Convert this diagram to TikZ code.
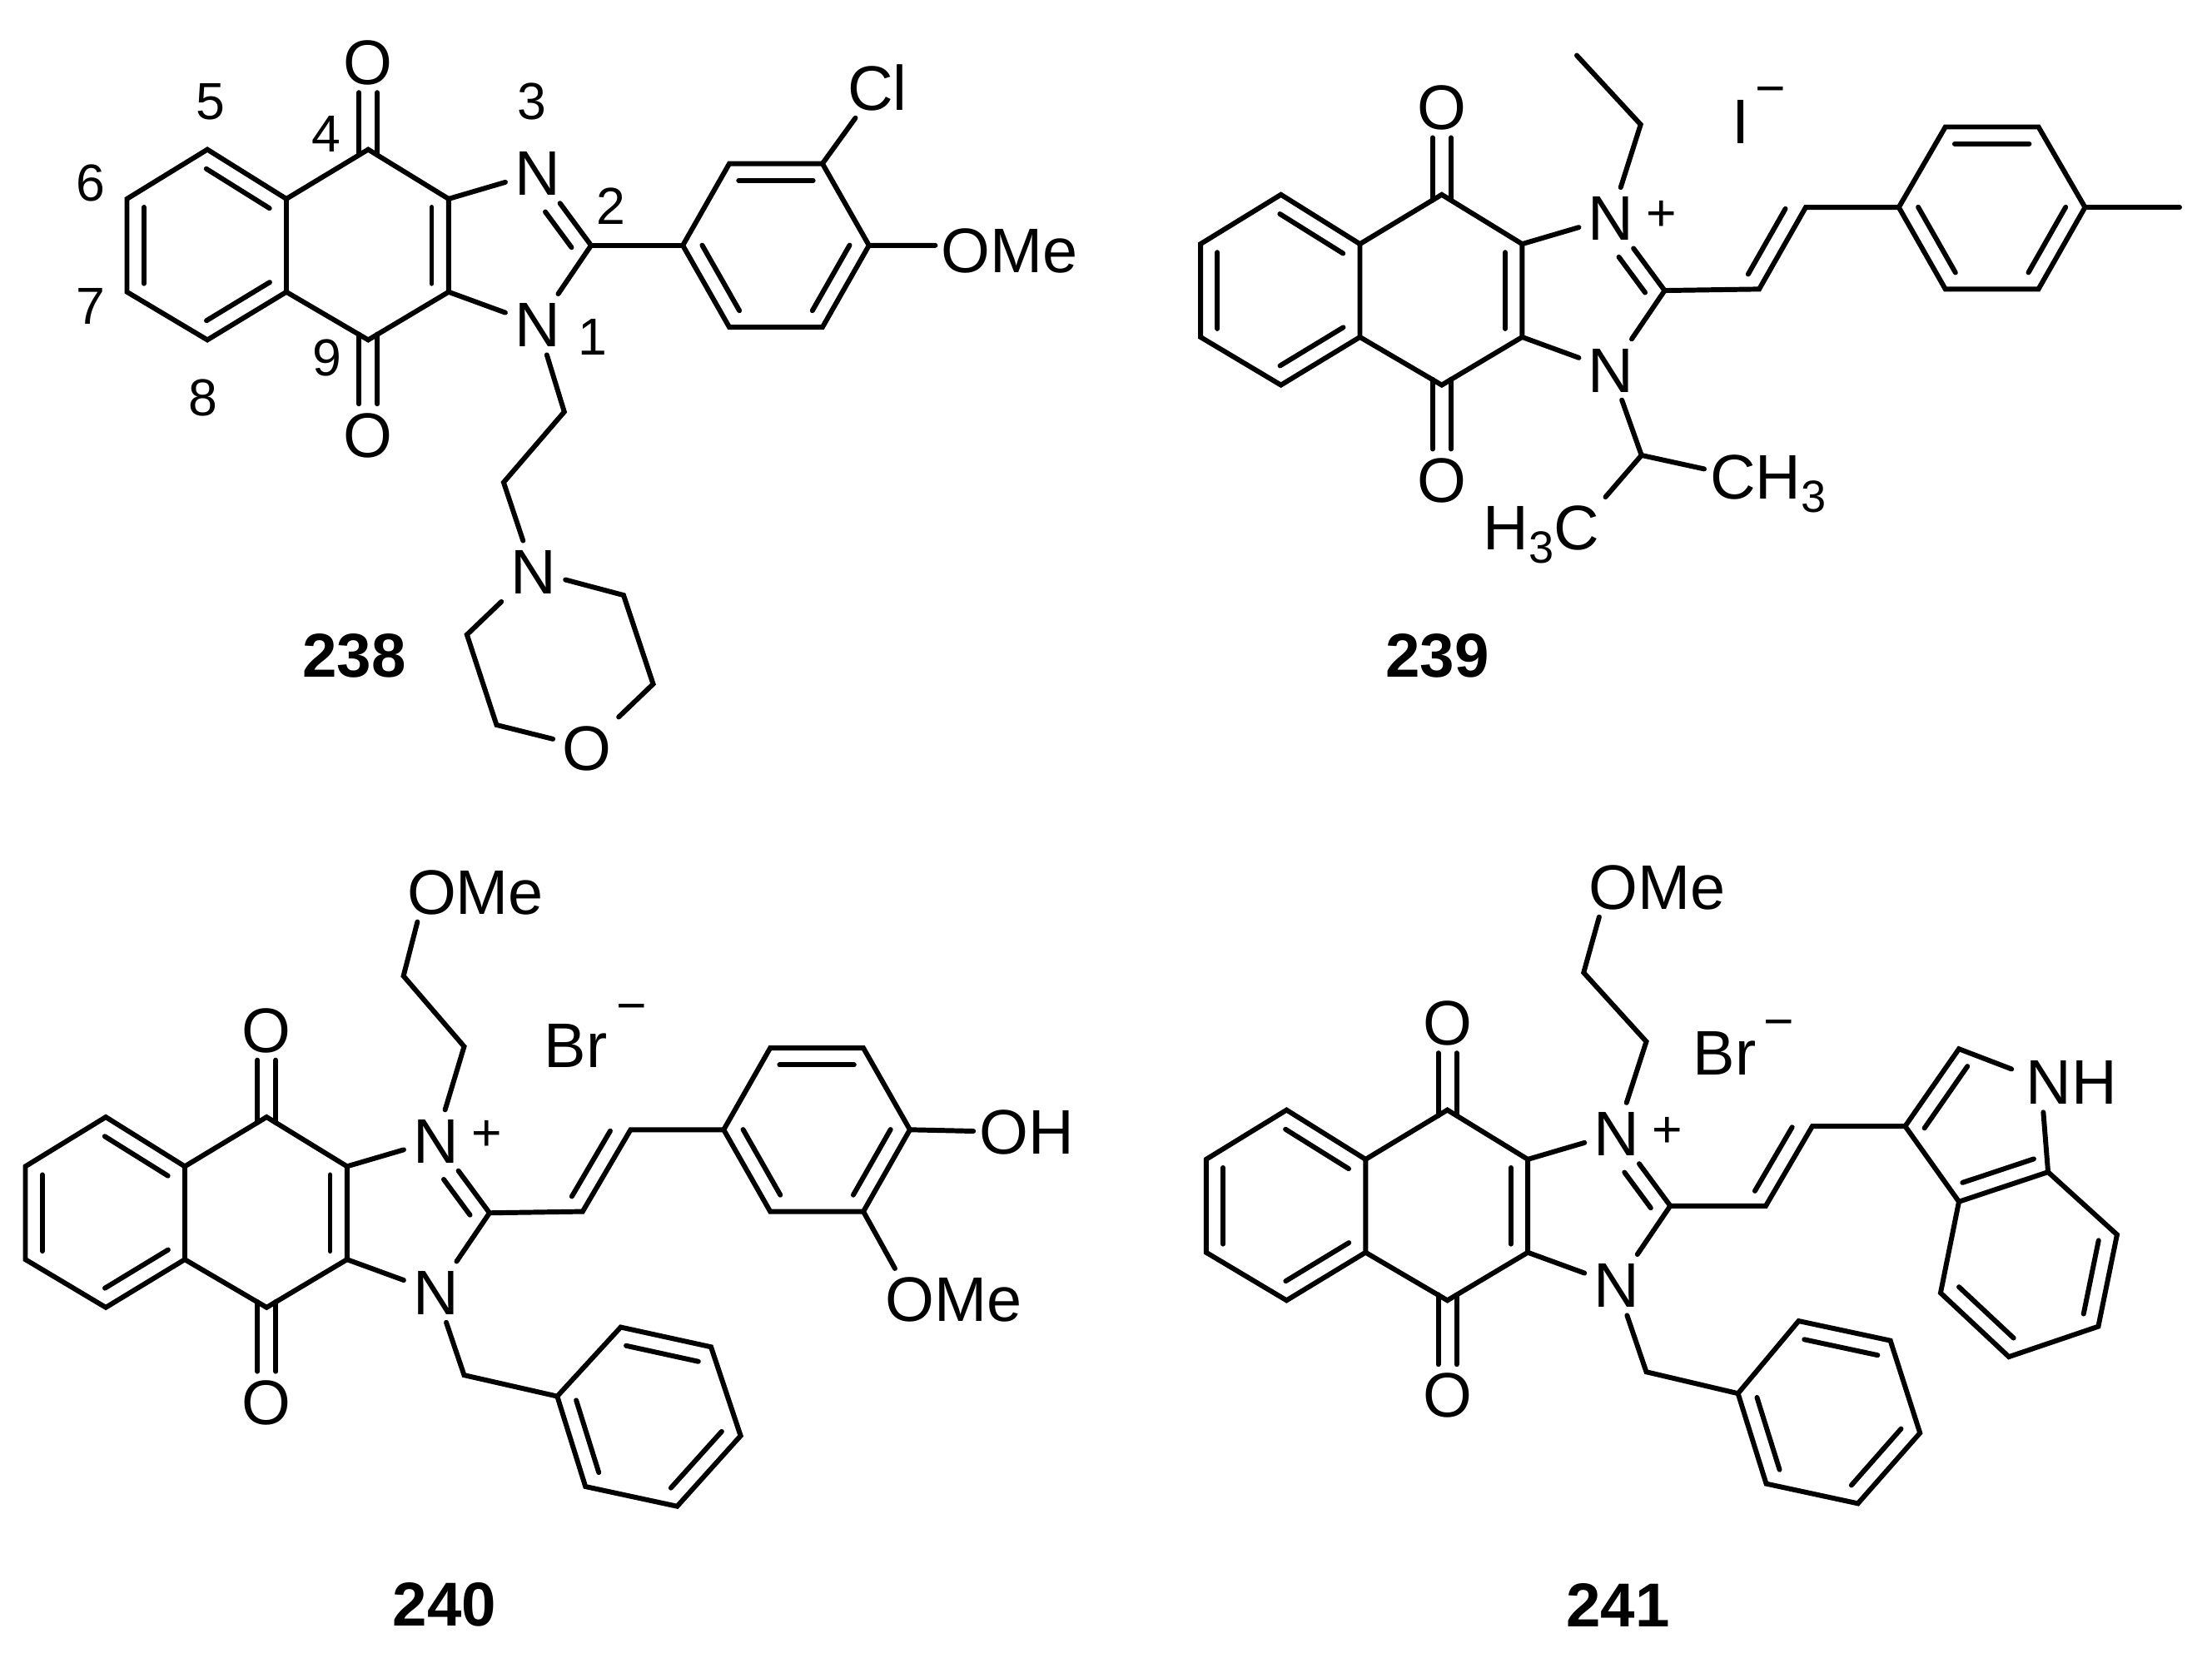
\documentclass[tikz,border=0pt]{standalone}
\usepackage{fontspec}
\setmainfont{Liberation Sans}
\usetikzlibrary{calc}
\def\dbloff{0.12cm}
\def\innerbond(#1)(#2:#3:#4:#5){\draw[bond] ($(#1)!#3!(#2)!\dbloff!#5:(#2)$) -- ($(#1)!#4!(#2)!\dbloff!#5:(#2)$);}
\def\sbs#1{\raisebox{-2.6pt}{\fontsize{9.1}{10}\selectfont #1}}
\tikzset{
	bond/.style={line width=1pt, line cap=round, line join=miter},
	atom/.style={inner xsep=1.7pt, inner ysep=1.4pt, text height=9.1pt, text depth=0pt, font=\fontsize{12.7}{15}\selectfont},
	group/.style={atom, inner xsep=1pt},
	numlabel/.style={inner sep=0pt, font=\fontsize{10.5}{12}\selectfont},
	charge/.style={inner sep=0pt, font=\fontsize{10.5}{12}\selectfont},
	compound/.style={inner sep=0pt, font=\fontsize{12.5}{15}\selectfont\bfseries},
}
% naphthoquinone + imidazole core, drawn in the frame of the first compound
\def\quinone#1#2#3{
	\begin{scope}[shift={(#2,#3)}]
		\coordinate (#1c5) at (147,106);
		\coordinate (#1c4a) at (203,141);
		\coordinate (#1c8a) at (203,207);
		\coordinate (#1c8) at (147,241);
		\coordinate (#1c7) at (90,207);
		\coordinate (#1c6) at (90,141);
		\coordinate (#1c4) at (261,106);
		\coordinate (#1c9) at (261,241);
		\coordinate (#1c3a) at (318,141);
		\coordinate (#1c9a) at (318,207);
		\coordinate (#1c2) at (419,174);
		\node[atom] (#1o4) at (261,44) {O};
		\node[atom] (#1o9) at (261,308) {O};
		\node[atom] (#1n3) at (381,122.5) {N};
		\node[atom] (#1n1) at (381,230) {N};
		\draw[bond] (#1c5) -- (#1c4a) -- (#1c8a) -- (#1c8) -- (#1c7) -- (#1c6) -- cycle;
		\draw[bond] (#1c4a) -- (#1c4) -- (#1c3a) -- (#1c9a) -- (#1c9) -- (#1c8a);
		\draw[bond] (#1c3a) -- (#1n3) -- (#1c2) -- (#1n1) -- (#1c9a);
		\draw[bond] ([xshift=-0.065cm]#1o4.south) -- ([xshift=-0.065cm,yshift=-0.04cm]#1c4);
		\draw[bond] ([xshift=0.065cm]#1o4.south) -- ([xshift=0.065cm,yshift=-0.04cm]#1c4);
		\draw[bond] ([xshift=-0.065cm]#1o9.north) -- ([xshift=-0.065cm,yshift=0.04cm]#1c9);
		\draw[bond] ([xshift=0.065cm]#1o9.north) -- ([xshift=0.065cm,yshift=0.04cm]#1c9);
		\innerbond(#1c5)(#1c4a:0.1:0.9:-90)
		\innerbond(#1c6)(#1c7:0.09:0.91:90)
		\innerbond(#1c8)(#1c8a:0.1:0.9:90)
		\innerbond(#1c3a)(#1c9a:0.09:0.91:-90)
		\innerbond(#1n3)(#1c2:0.4:0.89:-90)
	\end{scope}
}

\begin{document}
\begin{tikzpicture}[x=0.01cm, y=-0.01cm]
	\useasboundingbox (0,0) rectangle (1568,1179);
	
	%%%%% 238 %%%%%
	\quinone{a}{0}{0}
	\node[numlabel] (lbl5) at (149,72) {5};
	\node[numlabel] (lbl6) at (64,130) {6};
	\node[numlabel] (lbl7) at (64,217) {7};
	\node[numlabel] (lbl8) at (144,282) {8};
	\node[numlabel] (lbl4) at (231,95) {4};
	\node[numlabel] (lbl9) at (232,254) {9};
	\node[numlabel] (lbl3) at (377,72) {3};
	\node[numlabel] (lbl2) at (433,146) {2};
	\node[numlabel] (lbl1) at (420,239) {1};
	
	\coordinate (ar1) at (484,174);
	\coordinate (ar2) at (517,116);
	\coordinate (ar3) at (583,116);
	\coordinate (ar4) at (616,174);
	\coordinate (ar5) at (583,232);
	\coordinate (ar6) at (517,232);
	\draw[bond] (ar1) -- (ar2) -- (ar3) -- (ar4) -- (ar5) -- (ar6) -- cycle;
	\innerbond(ar2)(ar3:0.1:0.9:-90)
	\innerbond(ar4)(ar5:0.1:0.9:-90)
	\innerbond(ar6)(ar1:0.1:0.9:-90)
	\draw[bond] (ac2) -- (ar1);
	\node[atom] (acl) at (622,62) {Cl};
	\draw[bond] (ar3) -- (acl);
	\node[group, anchor=west] (aome) at (663,177) {OMe};
	\draw[bond] (ar4) -- ([yshift=0.03cm]aome.west);
	
	\coordinate (ach1) at (400,292);
	\coordinate (ach2) at (357,342);
	\node[atom] (amn) at (378,405) {N};
	\draw[bond] (an1) -- (ach1) -- (ach2) -- (amn);
	\coordinate (am1) at (442,422);
	\coordinate (am2) at (463,485);
	\node[atom] (amo) at (416,530) {O};
	\coordinate (am3) at (352,514);
	\coordinate (am4) at (331,450);
	\draw[bond] (amn) -- (am1) -- (am2) -- (amo) -- (am3) -- (am4) -- (amn);
	\node[compound] (c238) at (251,465) {238};
	
	%%%%% 239 %%%%%
	\quinone{b}{761}{32}
	\coordinate (bet1) at (1163,88.3);
	\coordinate (bet2) at (1117.7,39.3);
	\draw[bond] (bn3) -- (bet1) -- (bet2);
	\node[atom] (bi) at (1234,85.8) {I};
	\node[charge] (bminus) at (1255,68.5) {−};
	\node[charge] (bplus) at (1178,153) {+};
	\coordinate (bv1) at (1247,205);
	\coordinate (bv2) at (1280,147);
	\coordinate (br1) at (1346,147);
	\coordinate (br2) at (1379,90);
	\coordinate (br3) at (1445,90);
	\coordinate (br4) at (1478,147);
	\coordinate (br5) at (1445,205);
	\coordinate (br6) at (1379,205);
	\draw[bond] (bc2) -- (bv1) -- (bv2) -- (br1);
	\innerbond(bv1)(bv2:0.08:0.88:90)
	\draw[bond] (br1) -- (br2) -- (br3) -- (br4) -- (br5) -- (br6) -- cycle;
	\innerbond(br2)(br3:0.1:0.9:-90)
	\innerbond(br4)(br5:0.1:0.9:-90)
	\innerbond(br6)(br1:0.1:0.9:-90)
	\coordinate (bme) at (1545,147);
	\draw[bond] (br4) -- (bme);
	\coordinate (bch) at (1163.6,322.8);
	\node[group] (bch3) at (1253.4,338) {CH\sbs{3}};
	\node[group] (bh3c) at (1092.7,374) {H\sbs{3}C};
	\draw[bond] (bn1) -- (bch) -- ([yshift=0.055cm]bch3.west);
	\draw[bond] (bch) -- (bh3c.north east);
	\node[compound] (c239) at (1019,465) {239};
	
	%%%%% 240 %%%%%
	\quinone{c}{-72}{686}
	\coordinate (cet1) at (329,742);
	\coordinate (cet2) at (286,692);
	\node[group] (come) at (337,632) {OMe};
	\draw[bond] (cn3) -- (cet1) -- (cet2) -- ([xshift=0.115cm]come.south west);
	\node[atom] (cbr) at (408,741) {Br};
	\node[charge] (cminus) at (448,718.5) {−};
	\node[charge] (cplus) at (345,805) {+};
	\coordinate (cv1) at (413,859);
	\coordinate (cv2) at (447,801);
	\coordinate (cr1) at (513,801);
	\coordinate (cr2) at (546,743);
	\coordinate (cr3) at (612,743);
	\coordinate (cr4) at (645,801);
	\coordinate (cr5) at (612,859);
	\coordinate (cr6) at (546,859);
	\draw[bond] (cc2) -- (cv1) -- (cv2) -- (cr1);
	\innerbond(cv1)(cv2:0.08:0.88:90)
	\draw[bond] (cr1) -- (cr2) -- (cr3) -- (cr4) -- (cr5) -- (cr6) -- cycle;
	\innerbond(cr2)(cr3:0.1:0.9:-90)
	\innerbond(cr4)(cr5:0.1:0.9:-90)
	\innerbond(cr6)(cr1:0.1:0.9:-90)
	\node[group, anchor=west] (coh) at (690,802) {OH};
	\draw[bond] (cr4) -- (coh.west);
	\node[group] (come2) at (676,921) {OMe};
	\draw[bond] (cr5) -- ([xshift=0.11cm]come2.north west);
	\coordinate (cbn) at (329,975);
	\coordinate (cp1) at (395,990);
	\coordinate (cp2) at (415,1054);
	\coordinate (cp3) at (480,1068);
	\coordinate (cp4) at (525,1018);
	\coordinate (cp5) at (504,955);
	\coordinate (cp6) at (440,941);
	\draw[bond] (cn1) -- (cbn) -- (cp1);
	\draw[bond] (cp1) -- (cp2) -- (cp3) -- (cp4) -- (cp5) -- (cp6) -- cycle;
	\innerbond(cp6)(cp5:0.1:0.9:-90)
	\innerbond(cp4)(cp3:0.1:0.9:-90)
	\innerbond(cp2)(cp1:0.1:0.9:-90)
	\node[compound] (c240) at (315,1138) {240};
	
	%%%%% 241 %%%%%
	\quinone{d}{765}{681}
	\coordinate (det1) at (1167,738.5);
	\coordinate (det2) at (1122.6,689.6);
	\node[group] (dome) at (1174.7,628.5) {OMe};
	\draw[bond] (dn3) -- (det1) -- (det2) -- ([xshift=0.115cm]dome.south west);
	\node[atom] (dbr) at (1222.6,746.4) {Br};
	\node[charge] (dminus) at (1261,730) {−};
	\node[charge] (dplus) at (1182,803) {+};
	\coordinate (dv1) at (1251.7,855);
	\coordinate (dv2) at (1284.7,798.5);
	\coordinate (di3) at (1350.5,798.5);
	\coordinate (di2) at (1388.6,743.7);
	\node[group] (dnh) at (1468.4,767) {NH};
	\coordinate (di7a) at (1451.8,831);
	\coordinate (di3a) at (1388.6,852);
	\coordinate (di4) at (1375.6,916.7);
	\coordinate (di5) at (1424,962);
	\coordinate (di6) at (1487.4,940.5);
	\coordinate (di7) at (1500.7,875.4);
	\draw[bond] (dc2) -- (dv1) -- (dv2) -- (di3);
	\innerbond(dv1)(dv2:0.08:0.88:90)
	\draw[bond] (di3) -- (di2) -- ([xshift=-0.06cm,yshift=0.09cm]dnh.west);
	\draw[bond] ([xshift=0.165cm]dnh.south west) -- (di7a) -- (di3a) -- (di3);
	\draw[bond] (di3a) -- (di4) -- (di5) -- (di6) -- (di7) -- (di7a);
	\innerbond(di3)(di2:0.1:0.9:-90)
	\innerbond(di7a)(di3a:0.1:0.9:-90)
	\innerbond(di4)(di5:0.1:0.9:90)
	\innerbond(di6)(di7:0.1:0.9:90)
	\coordinate (dbn) at (1167,972.7);
	\coordinate (dp1) at (1232,988);
	\coordinate (dp2) at (1252,1052);
	\coordinate (dp3) at (1317,1066);
	\coordinate (dp4) at (1361,1016);
	\coordinate (dp5) at (1340,950.5);
	\coordinate (dp6) at (1275,936.6);
	\draw[bond] (dn1) -- (dbn) -- (dp1);
	\draw[bond] (dp1) -- (dp2) -- (dp3) -- (dp4) -- (dp5) -- (dp6) -- cycle;
	\innerbond(dp6)(dp5:0.1:0.9:-90)
	\innerbond(dp4)(dp3:0.1:0.9:-90)
	\innerbond(dp2)(dp1:0.1:0.9:-90)
	\node[compound] (c241) at (1147,1138) {241};
\end{tikzpicture}
\end{document}
